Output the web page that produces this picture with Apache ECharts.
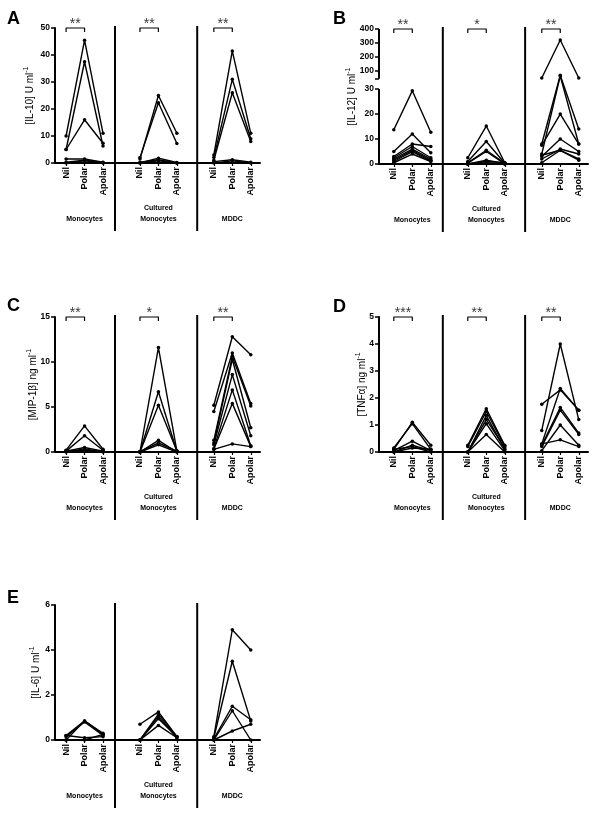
<!DOCTYPE html>
<html><head><meta charset="utf-8">
<script src="https://cdn.jsdelivr.net/npm/echarts@6/dist/echarts.min.js"></script>
<style>html,body{margin:0;padding:0;background:#fff}#c{width:600px;height:817px}</style>
</head><body><div id="c"></div>
<script>
const conditions = ['Nil', 'Polar', 'Apolar'];
const groups = ['Monocytes', 'Cultured\nMonocytes', 'MDDC'];

// Each row = one donor: [Nil, Polar, Apolar]
// A: IL-10 (U/ml)
const il10Monocytes = [[10, 45.5, 11], [5, 37.5, 6.3], [5, 16, 7.3], [1.5, 1.5, 0.3], [0.3, 1, 0], [0, 0.8, 0.2]];
const il10Cultured  = [[1.5, 25, 11], [2, 22.3, 7.2], [0, 1.8, 0.2], [0.3, 1.2, 0], [0, 0.8, 0]];
const il10MDDC      = [[3, 41.5, 11], [2, 31, 9], [1, 26, 8], [0.5, 1.2, 0.3], [0, 0.8, 0]];
const il10Ticks = [0, 10, 20, 30, 40, 50];
const il10Sig = ['**', '**', '**'];

// B: IL-12 (U/ml), broken axis
const il12Monocytes = [[13.7, 29.3, 12.7], [5, 12, 4.5], [3, 8, 7], [2.5, 7, 2.5], [2, 6, 2], [1.5, 5.5, 1.5], [1, 5, 1.2], [0.5, 4, 1]];
const il12Cultured  = [[2.5, 15.2, 0.5], [1, 9, 0.3], [0.5, 5.5, 0.3], [0.3, 5, 0], [0, 1.5, 0.2], [0, 1, 0.5], [0, 0.5, 0]];
const il12MDDC      = [[45, 320, 45], [8, 65, 14], [4, 60, 8], [7.5, 20, 8], [3, 10, 5], [2, 6, 4], [0.5, 5.5, 2], [3.5, 5.5, 1.5]];
const il12Ticks = [0, 10, 20, 30, 100, 200, 300, 400];
const il12Sig = ['**', '*', '**'];

// C: MIP-1beta (ng/ml)
const mipMonocytes = [[0.2, 2.9, 0.3], [0.1, 1.8, 0.2], [0.1, 0.5, 0.1], [0, 0.35, 0], [0.15, 0.2, 0.05]];
const mipCultured  = [[0, 11.6, 0.1], [0, 6.7, 0.05], [0, 5.2, 0.1], [0, 1.3, 0], [0.05, 1.0, 0.1], [0, 0.8, 0]];
const mipMDDC      = [[5.2, 12.8, 10.8], [4.5, 11.0, 5.4], [1.3, 10.6, 5.1], [1.0, 10.3, 2.7], [0.8, 8.6, 1.8], [0.4, 6.9, 0.7], [0.3, 5.4, 0.6], [0.3, 0.9, 0.6]];
const mipTicks = [0, 5, 10, 15];
const mipSig = ['**', '*', '**'];

// D: TNF-alpha (ng/ml)
const tnfMonocytes = [[0.1, 1.1, 0.25], [0.15, 1.05, 0.1], [0.05, 0.4, 0.05], [0, 0.25, 0.05], [0.1, 0.2, 0], [0, 0.15, 0.1]];
const tnfCultured  = [[0.25, 1.6, 0.25], [0.2, 1.5, 0.2], [0, 1.35, 0.1], [0, 1.2, 0.15], [0, 1.05, 0.05], [0, 0.65, 0]];
const tnfMDDC      = [[1.77, 2.3, 1.55], [0.8, 4.0, 1.2], [0.3, 2.35, 1.55], [0.25, 1.65, 0.7], [0.2, 1.55, 0.65], [0.05, 1.0, 0.25], [0.3, 0.45, 0.2]];
const tnfTicks = [0, 1, 2, 3, 4, 5];
const tnfSig = ['***', '**', '**'];

// E: IL-6 (U/ml)
const il6Monocytes = [[0.2, 0.85, 0.25], [0.15, 0.8, 0.2], [0, 0.85, 0.3], [0.2, 0.1, 0.15], [0, 0, 0.25]];
const il6Cultured  = [[0.7, 1.25, 0.15], [0, 1.15, 0.15], [0, 1.05, 0.1], [0, 0.95, 0.15], [0, 0.65, 0.1]];
const il6MDDC      = [[0.15, 4.9, 4.0], [0.1, 3.5, 0.85], [0.05, 1.5, 0.9], [0, 1.3, 0], [0, 0.4, 0.7]];
const il6Ticks = [0, 2, 4, 6];
const il6Sig = [];

// ---- broken-axis mapping for IL-12 (lower 0-30 linear, upper 40-400 compressed)
const il12Scale = v => v <= 30 ? v : 34.15 + (v - 40) * 0.0553;

const FONT = 'Liberation Sans, Arial, sans-serif';
const H = 135;
const panels = [
  { letter: 'A', lp: [7, 10], left: 55, top: 28, width: 205, xmin: -0.6, xmax: 10.5, name: '[IL-10] U ml', nameGap: 18,
    data: [il10Monocytes, il10Cultured, il10MDDC], ticks: il10Ticks, sig: il10Sig },
  { letter: 'B', lp: [333, 10], left: 379, top: 29, width: 209, xmin: -0.8, xmax: 10.5, name: '[IL-12] U ml', nameGap: 20,
    data: [il12Monocytes, il12Cultured, il12MDDC], ticks: il12Ticks, sig: il12Sig, scale: il12Scale, breakAt: [30, 40] },
  { letter: 'C', lp: [7, 297], left: 55, top: 317, width: 205, xmin: -0.6, xmax: 10.5, name: '[MIP-1β] ng ml', nameGap: 15,
    data: [mipMonocytes, mipCultured, mipMDDC], ticks: mipTicks, sig: mipSig },
  { letter: 'D', lp: [333, 298], left: 379, top: 317, width: 209, xmin: -0.8, xmax: 10.5, name: '[TNFα] ng ml', nameGap: 10,
    data: [tnfMonocytes, tnfCultured, tnfMDDC], ticks: tnfTicks, sig: tnfSig },
  { letter: 'E', lp: [7, 589], left: 55, top: 605, width: 205, xmin: -0.6, xmax: 10.5, name: '[IL-6] U ml', nameGap: 12,
    data: [il6Monocytes, il6Cultured, il6MDDC], ticks: il6Ticks, sig: il6Sig }
];
const separators = [2.65, 7.1];
const xPos = [];
groups.forEach((g, gi) => conditions.forEach((c, ci) => xPos.push(gi * 4 + ci)));

const grid = [], xAxis = [], yAxis = [], series = [], title = [];
panels.forEach((p, i) => {
  const f = p.scale || (v => v);
  const ymax = f(p.ticks[p.ticks.length - 1]);
  const tickVals = p.ticks.map(f);
  title.push({ text: p.letter, left: p.lp[0], top: p.lp[1], padding: 0,
    textStyle: { fontSize: 18, fontWeight: 'bold', fontFamily: FONT, color: '#000' } });
  grid.push({ left: p.left, top: p.top, width: p.width, height: H });
  xAxis.push({
    gridIndex: i, type: 'value', min: p.xmin, max: p.xmax, position: 'bottom',
    axisLine: { onZero: false, lineStyle: { color: '#000', width: 2 } },
    axisTick: { customValues: xPos, length: 3, lineStyle: { color: '#000', width: 1.2 } },
    axisLabel: { customValues: xPos, rotate: 90, margin: 4, fontSize: 9, fontWeight: 'bold', color: '#000', fontFamily: FONT,
      formatter: v => conditions[Math.round(v) % 4] || '' },
    splitLine: { show: false }
  });
  xAxis.push({
    gridIndex: i, type: 'value', min: p.xmin, max: p.xmax, position: 'bottom', offset: 38,
    axisLine: { show: false, onZero: false }, axisTick: { show: false },
    axisLabel: { customValues: [1, 5, 9], margin: 2, fontSize: 7, lineHeight: 11, fontWeight: 'bold', color: '#000', fontFamily: FONT,
      formatter: v => { const t = groups[Math.round((v - 1) / 4)]; return t.indexOf('\n') >= 0 ? t : '\n' + t; } },
    splitLine: { show: false }
  });
  const tickCustom = p.breakAt ? tickVals.concat([f(p.breakAt[1])]) : tickVals;
  yAxis.push({
    gridIndex: i, type: 'value', min: 0, max: ymax, position: 'left',
    name: p.name + '{sup|-1}', nameLocation: 'middle', nameGap: p.nameGap, nameMoveOverlap: false,
    nameTextStyle: { fontSize: 10, color: '#000', fontFamily: FONT, lineHeight: 14,
      rich: { sup: { fontSize: 7, verticalAlign: 'top', lineHeight: 14, fontFamily: FONT, color: '#000' } } },
    axisLine: { show: !p.breakAt, onZero: false, lineStyle: { color: '#000', width: 2 } },
    axisTick: { show: true, customValues: tickCustom, length: 4, lineStyle: { color: '#000', width: 1.5 } },
    axisLabel: { customValues: tickVals, margin: 5, fontSize: 8.5, fontWeight: 'bold', color: '#000', fontFamily: FONT,
      formatter: v => { const k = tickVals.findIndex(t => Math.abs(t - v) < 1e-6); return k >= 0 ? String(p.ticks[k]) : ''; } },
    splitLine: { show: false }
  });
  const common = { xAxisIndex: 2 * i, yAxisIndex: i, animation: false, silent: true };
  // broken y axis line segments
  if (p.breakAt) {
    [[0, p.breakAt[0]], [p.breakAt[1], p.ticks[p.ticks.length - 1]]].forEach(seg => {
      series.push(Object.assign({ type: 'line', symbol: 'none', clip: false,
        data: [[p.xmin, f(seg[0])], [p.xmin, f(seg[1])]], lineStyle: { color: '#000', width: 2 } }, common));
    });
  }
  // separators between cell types
  separators.forEach(s => {
    series.push(Object.assign({ type: 'line', symbol: 'none', clip: false,
      data: [[s, -68 / H * ymax], [s, ymax + 2 / H * ymax]], lineStyle: { color: '#000', width: 2 } }, common));
  });
  // donor lines
  p.data.forEach((donors, gi) => {
    donors.forEach(row => {
      series.push(Object.assign({ type: 'line', symbol: 'circle', symbolSize: 3.5, clip: false,
        data: row.map((v, ci) => [gi * 4 + ci, f(v)]),
        lineStyle: { color: '#000', width: 1.4 }, itemStyle: { color: '#000' } }, common));
    });
  });
  // significance brackets
  p.sig.forEach((s, gi) => {
    const d = 4 / H * ymax;
    series.push(Object.assign({ type: 'line', symbol: 'none', clip: false,
      data: [[gi * 4, ymax - d], [gi * 4, ymax], [gi * 4 + 1, ymax], [gi * 4 + 1, ymax - d]],
      lineStyle: { color: '#000', width: 1.2 } }, common));
    series.push(Object.assign({ type: 'scatter', symbolSize: 0, clip: false,
      data: [[gi * 4 + 0.5, ymax]],
      label: { show: true, position: 'top', distance: -3, formatter: s, fontSize: 14, color: '#000', fontFamily: FONT } }, common));
  });
});

const chart = echarts.init(document.getElementById('c'), null, { renderer: 'canvas' });
chart.setOption({ backgroundColor: '#fff', animation: false, title, grid, xAxis, yAxis, series });
</script></body></html>
